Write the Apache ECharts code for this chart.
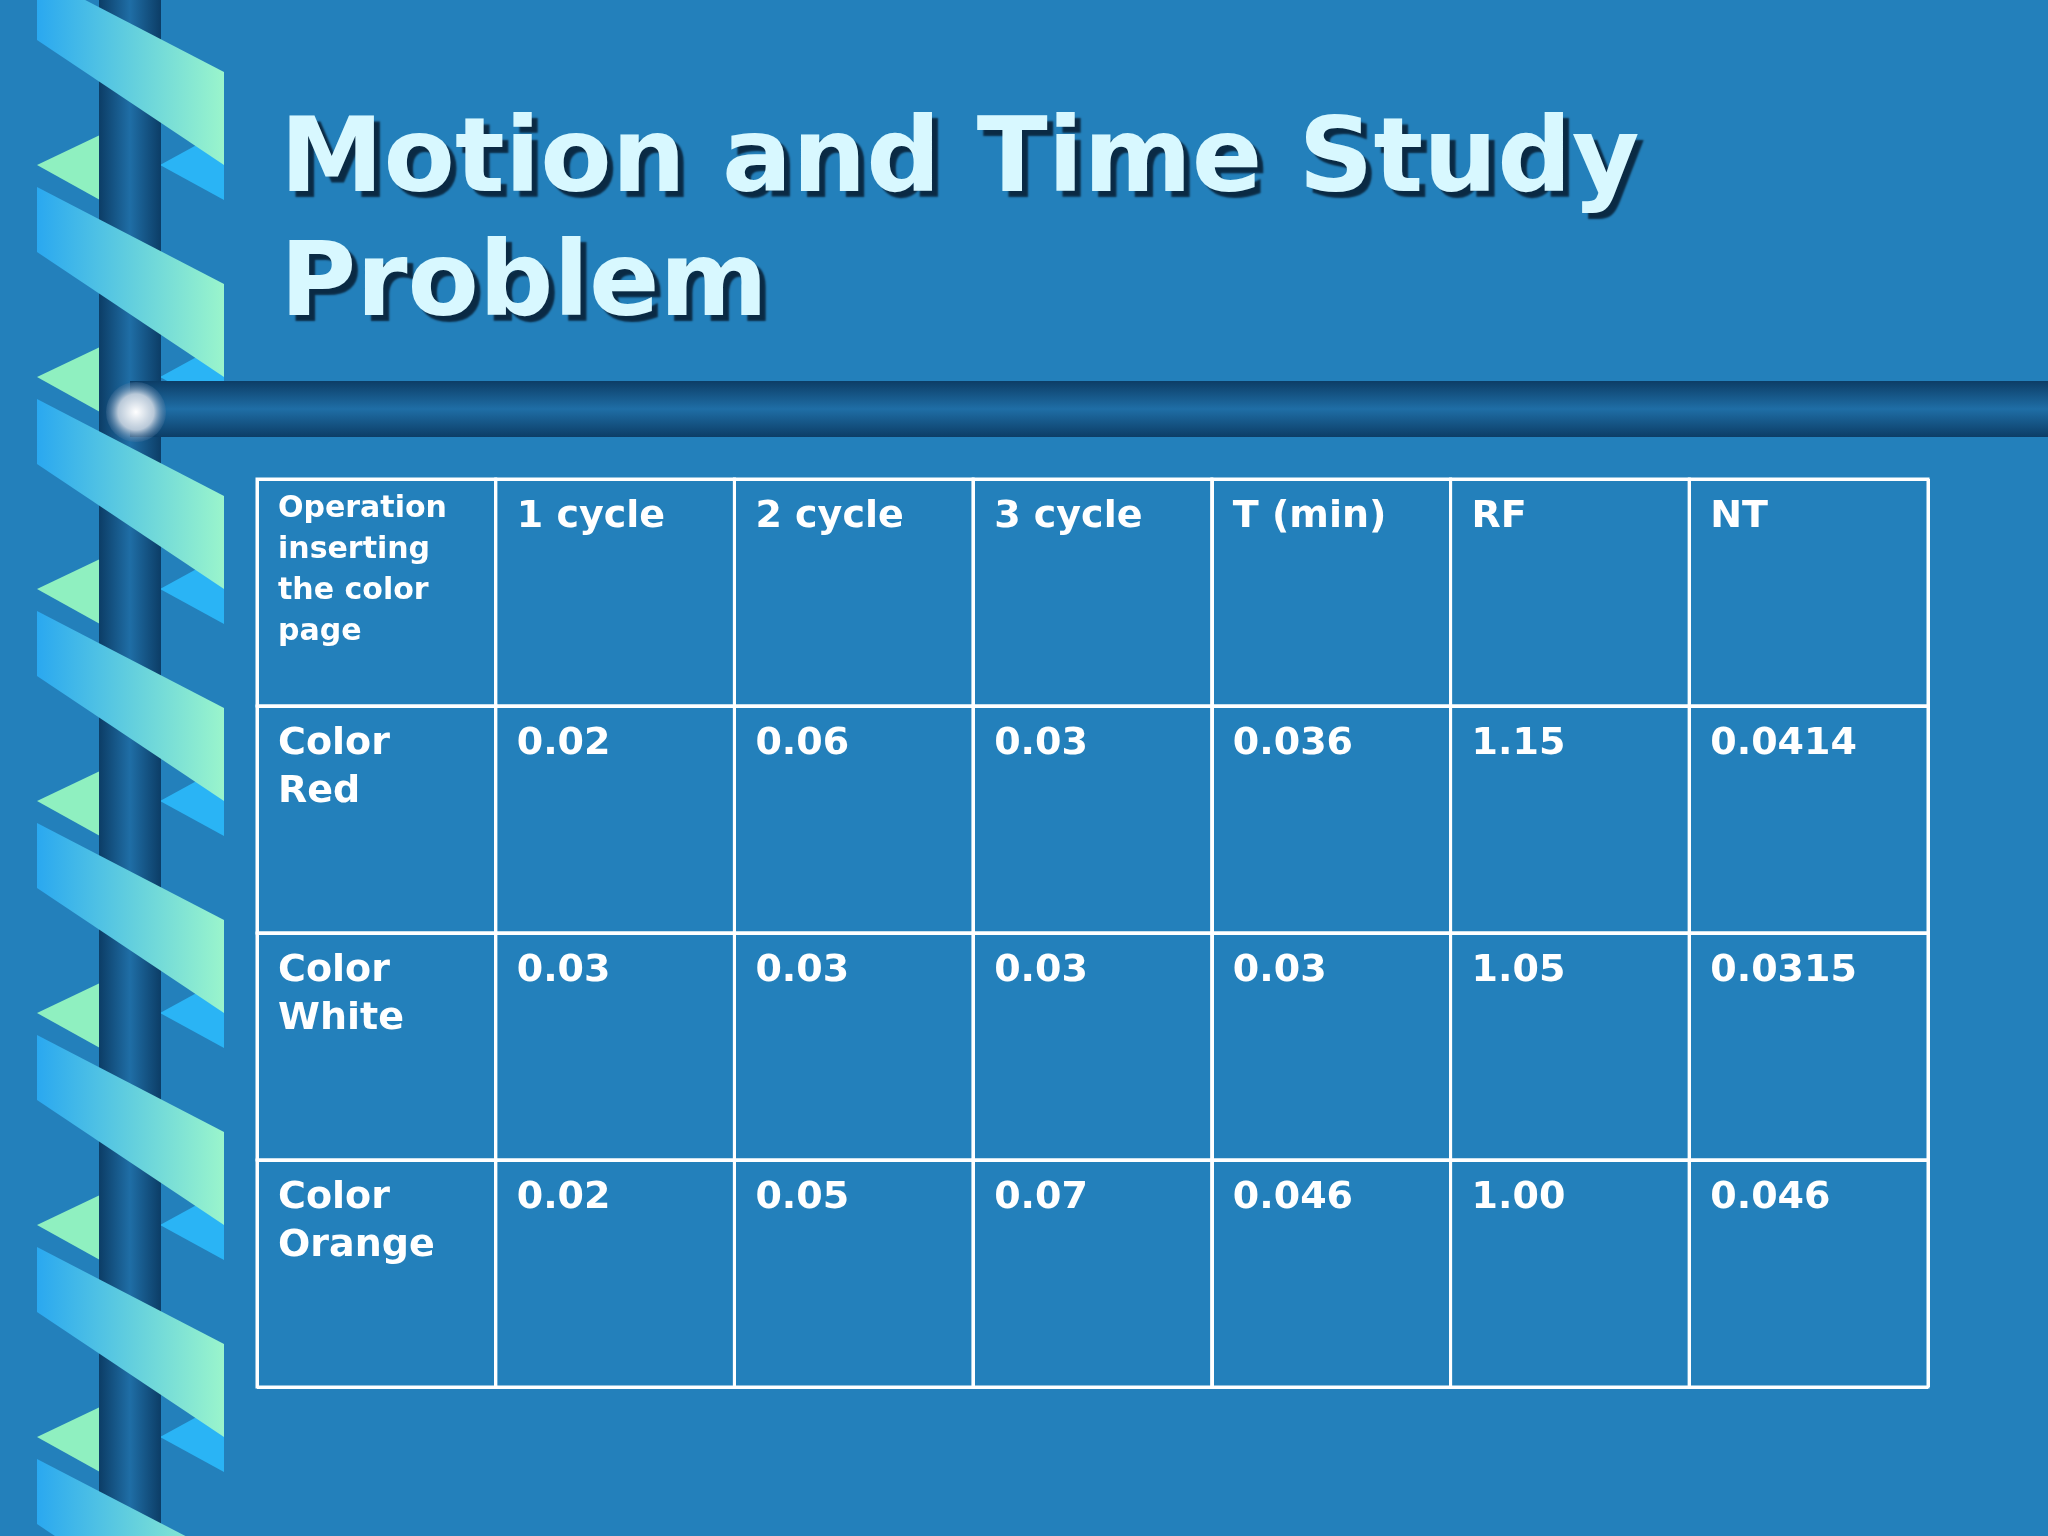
<!DOCTYPE html><html><head><meta charset="utf-8">
<script src="https://cdn.jsdelivr.net/npm/echarts@6/dist/echarts.min.js"></script>
<style>html,body{margin:0;padding:0;background:#2380bb}#c{width:2048px;height:1536px}</style></head><body><div id="c"></div>
<script>
const columns = ['Operation\ninserting\nthe color\npage','1 cycle','2 cycle','3 cycle','T (min)','RF','NT'];
const rowNames = ['Color\nRed','Color\nWhite','Color\nOrange'];
const cycle1 = ['0.02','0.03','0.02'];
const cycle2 = ['0.06','0.03','0.05'];
const cycle3 = ['0.03','0.03','0.07'];
const tMin = ['0.036','0.03','0.046'];
const rf = ['1.15','1.05','1.00'];
const nt = ['0.0414','0.0315','0.046'];

const rowsCat = ['h','r0','r1','r2'];
const cells = [];
columns.forEach((c,i)=>cells.push([i,0,c]));
const cols = [rowNames,cycle1,cycle2,cycle3,tMin,rf,nt];
for(let r=0;r<3;r++) cols.forEach((col,i)=>cells.push([i,r+1,col[r]]));

const deco = [];
for(let k=-1;k<8;k++){
  const y=k*212;
  deco.push({type:'polygon',shape:{points:[[37,y+40],[37,y-25],[224,y+72],[224,y+165]]},
    style:{fill:new echarts.graphic.LinearGradient(0,0,1,0,[{offset:0,color:'#2aa8f0'},{offset:1,color:'#9af5cc'}])},z:4});
  deco.push({type:'polygon',shape:{points:[[37,y+165],[100,y+135],[100,y+200]]},style:{fill:'#8ff0c0'},z:1});
  deco.push({type:'polygon',shape:{points:[[160,y+165],[224,y+130],[224,y+200]]},style:{fill:'#2ab4f5'},z:1});
}
deco.push({type:'rect',shape:{x:99,y:0,width:62,height:1536},style:{fill:new echarts.graphic.LinearGradient(0,0,1,0,[{offset:0,color:'#0c3d66'},{offset:0.5,color:'#1f6ea6'},{offset:1,color:'#0c3d66'}])},z:2});
deco.push({type:'rect',shape:{x:130,y:381,width:1918,height:56},style:{fill:new echarts.graphic.LinearGradient(0,0,0,1,[{offset:0,color:'#0c3d66'},{offset:0.5,color:'#1f6ea6'},{offset:1,color:'#0c3d66'}])},z:5});
deco.push({type:'circle',shape:{cx:136,cy:412,r:30},style:{fill:new echarts.graphic.RadialGradient(0.5,0.5,0.5,[{offset:0,color:'#ffffff'},{offset:0.6,color:'#b8c8d8'},{offset:1,color:'rgba(80,120,160,0.3)'}])},z:6});
deco.push({type:'text',left:280,top:102,style:{text:'Motion and Time Study\nProblem',font:'bold 104px "DejaVu Sans"',fill:'#d8f8ff',lineHeight:124,
  textShadowColor:'#0a2a44',textShadowOffsetX:6,textShadowOffsetY:6,textShadowBlur:2},z:5});

const chart = echarts.init(document.getElementById('c'));
chart.setOption({
  backgroundColor:'#2380bb',
  graphic:deco,
  grid:{left:257,right:120,top:479,bottom:149},
  xAxis:{type:'category',data:columns.map((c,i)=>'c'+i),position:'top',axisLine:{show:false},axisTick:{show:false},axisLabel:{show:false},
    splitLine:{show:true,lineStyle:{color:'#ffffff',width:3}}},
  yAxis:{type:'category',data:rowsCat,inverse:true,axisLine:{show:false},axisTick:{show:false},axisLabel:{show:false},
    splitLine:{show:true,lineStyle:{color:'#ffffff',width:3}}},
  series:[{type:'custom',data:cells,renderItem:(params,api)=>{
      const p=api.coord([api.value(0),api.value(1)]);
      const s=api.size([1,1]);
      const x0=p[0]-s[0]/2, y0=p[1]-s[1]/2;
      const header=api.value(0)===0&&api.value(1)===0;
      return {type:'group',children:[
        {type:'rect',shape:{x:x0,y:y0,width:s[0],height:s[1]},style:{fill:'none',stroke:'#ffffff',lineWidth:3}},
        {type:'text',x:x0+21,y:y0+(header?10:14),style:{text:cells[params.dataIndex][2],
        font:header?'bold 30px "DejaVu Sans"':'bold 38px "DejaVu Sans"',lineHeight:header?41:48,fill:'#ffffff',
        textShadowColor:'#0a2a44',textShadowOffsetX:2,textShadowOffsetY:2}}]};
  }}]
});
</script></body></html>
